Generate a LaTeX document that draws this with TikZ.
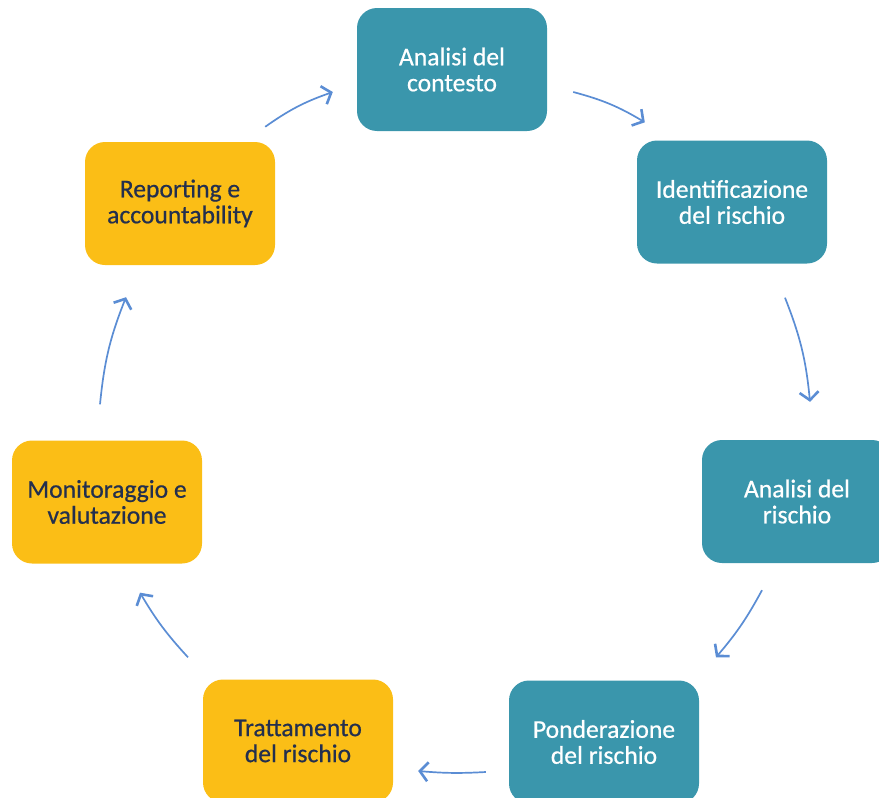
\documentclass[tikz,border=0pt]{standalone}
\usepackage{fontspec}
\setmainfont{Carlito}
\newfontfamily\phasefont{Carlito}[FakeBold=0.6]
\usepackage{xcolor}
\usetikzlibrary{arrows.meta,positioning,calc}

\definecolor{tealbox}{RGB}{58,150,172}
\definecolor{goldbox}{RGB}{251,190,22}
\definecolor{navytext}{RGB}{35,47,78}
\definecolor{flowblue}{RGB}{91,141,212}

\begin{document}
\begin{tikzpicture}[x=1pt, y=-1pt]
\tikzstyle{phase}=[rectangle,
                   minimum width=190pt,
                   minimum height=123pt,
                   rounded corners=20pt,
                   align=center,
                   font=\phasefont\fontsize{25.6pt}{26pt}\selectfont]
\tikzstyle{assess}=[phase, fill=tealbox, text=white]
\tikzstyle{respond}=[phase, fill=goldbox, text=navytext]
\tikzstyle{flow}=[draw=flowblue, line width=1.7pt,
                  -{Straight Barb[length=8pt,width=19pt,line width=2.6pt]}]
\useasboundingbox (0,0) rectangle (879,798);

\node[assess] (context) at (452,69.5) {Analisi del\\contesto};
\node[assess] (identify) at (732,202) {Identificazione\\del rischio};
\node[assess] (analysis) at (797,501.5) {Analisi del\\rischio};
\node[assess] (weighting) at (604,742) {Ponderazione\\del rischio};
\node[respond] (treatment) at (298,741) {Trattamento\\del rischio};
\node[respond] (monitoring) at (107,502) {Monitoraggio e\\valutazione};
\node[respond] (reporting) at (180,203.5) {Reporting e\\accountability};

\path
([shift={(-10,-15)}]reporting.north east) edge[flow, bend left=8] ([shift={(-24,22.5)}]context.west)
([shift={(26,22.5)}]context.east) edge[flow, bend left=8] ([shift={(8,-18)}]identify.north west)
([shift={(53,34)}]identify.south) edge[flow, bend left=8] ([shift={(13,-38)}]analysis.north)
([shift={(-35,27)}]analysis.south) edge[flow, bend left=6] ([shift={(112,-23)}]weighting.north)
([shift={(-23,30)}]weighting.west) edge[flow, bend left=4] ([shift={(25,30)}]treatment.east)
([shift={(-110,-22)}]treatment.north) edge[flow, bend left=6] ([shift={(33,29)}]monitoring.south)
([shift={(-7,-36)}]monitoring.north) edge[flow, bend left=8] ([shift={(-54,32)}]reporting.south);
\end{tikzpicture}
\end{document}
